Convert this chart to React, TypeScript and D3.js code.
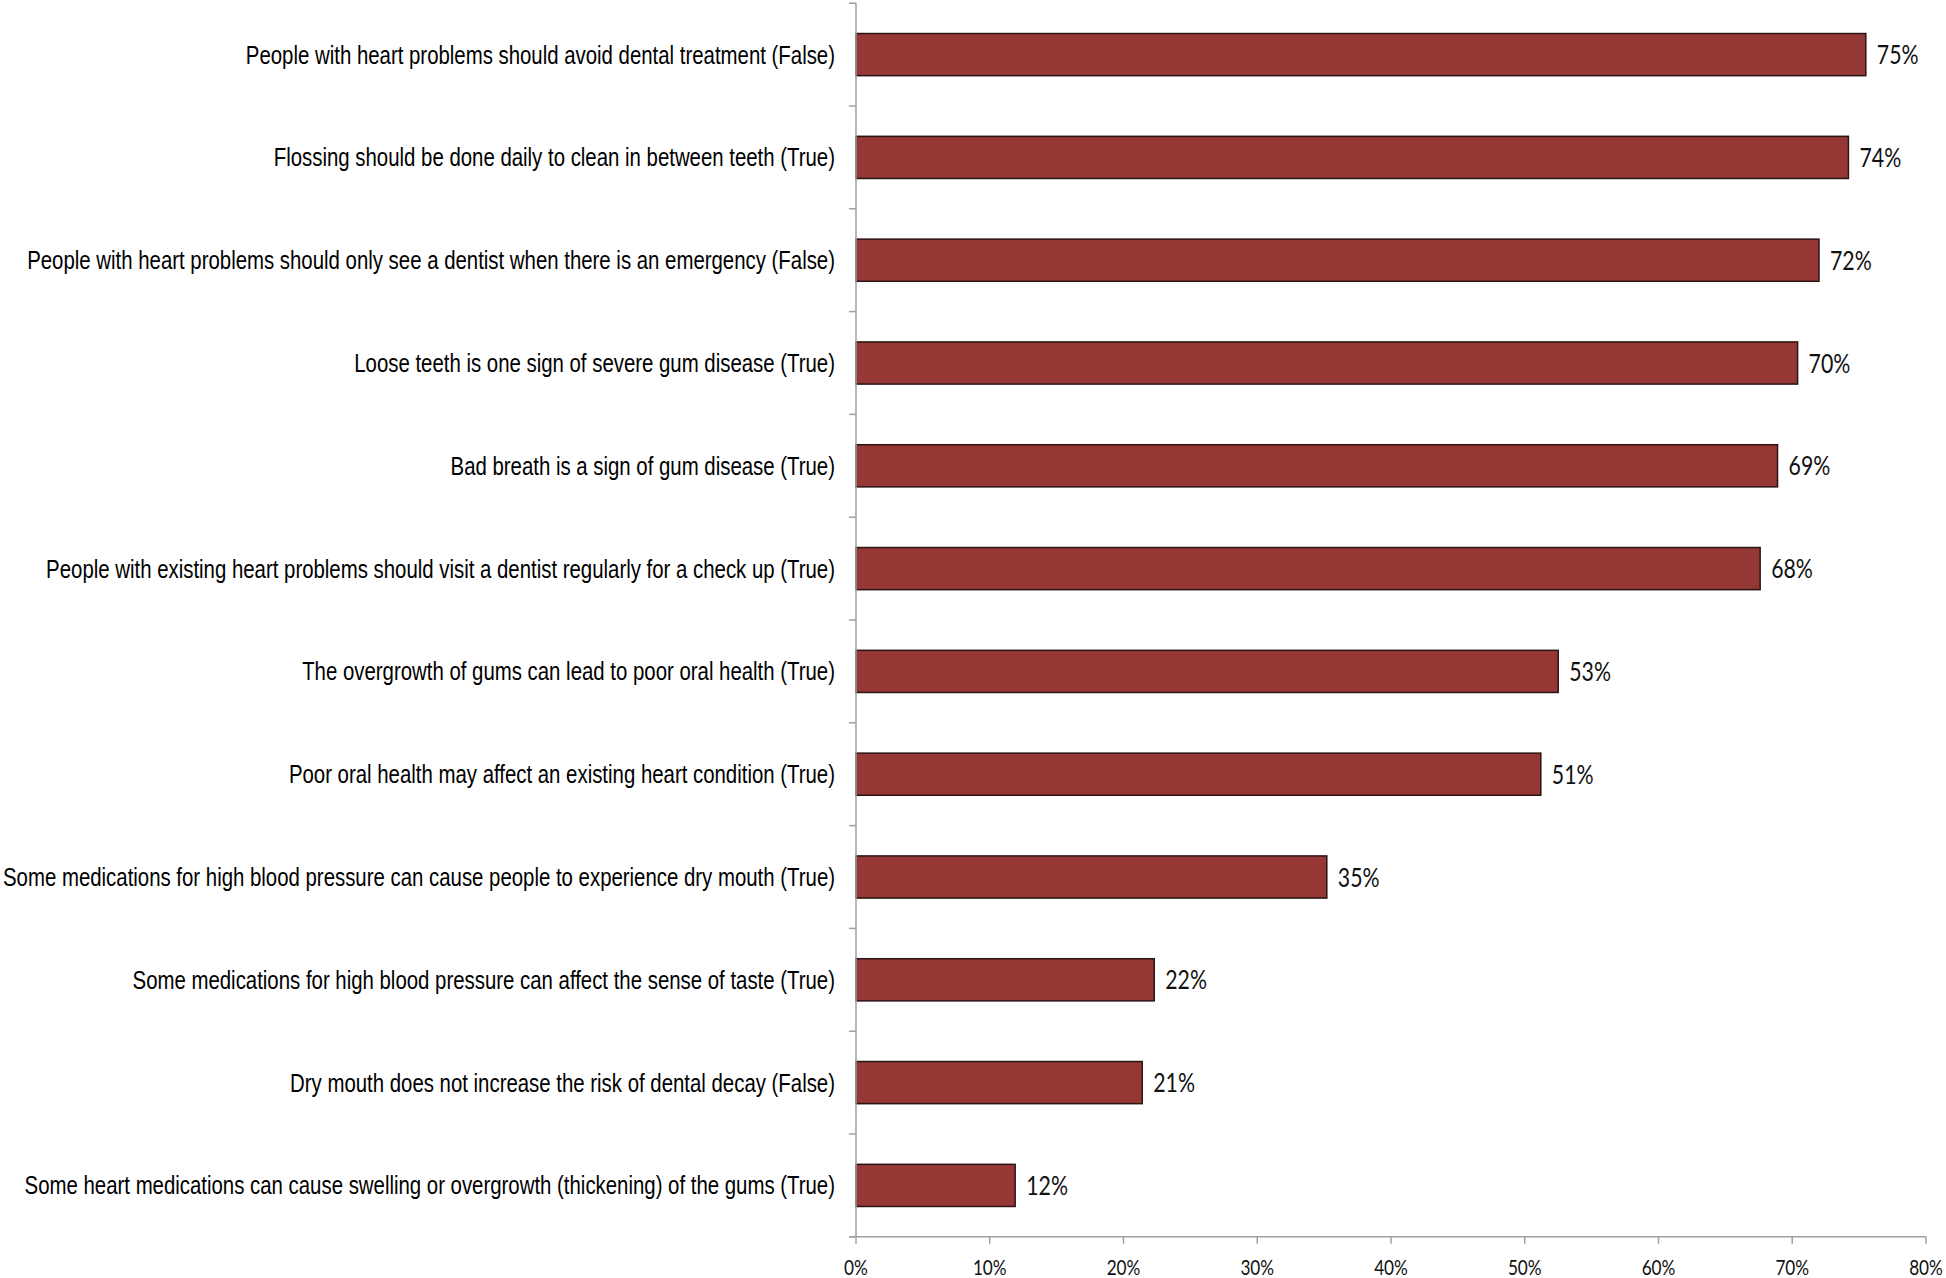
import React from "react";
import * as d3 from "d3";

const categories: string[] = [
  "People with heart problems should avoid dental treatment (False)",
  "Flossing should be done daily to clean in between teeth (True)",
  "People with heart problems should only see a dentist when there is an emergency (False)",
  "Loose teeth is one sign of severe gum disease (True)",
  "Bad breath is a sign of gum disease (True)",
  "People with existing heart problems should visit a dentist regularly for a check up (True)",
  "The overgrowth of gums can lead to poor oral health (True)",
  "Poor oral health may affect an existing heart condition (True)",
  "Some medications for high blood pressure can cause people to experience dry mouth (True)",
  "Some medications for high blood pressure can affect the sense of taste (True)",
  "Dry mouth does not increase the risk of dental decay (False)",
  "Some heart medications can cause swelling or overgrowth (thickening) of the gums (True)",
];

const values: number[] = [75.5, 74.2, 72.0, 70.4, 68.9, 67.6, 52.5, 51.2, 35.2, 22.3, 21.4, 11.9];
const valueLabels: string[] = ["75%", "74%", "72%", "70%", "69%", "68%", "53%", "51%", "35%", "22%", "21%", "12%"];
const xTicks: number[] = [0, 10, 20, 30, 40, 50, 60, 70, 80];

const W = 1946;
const H = 1278;
const X0 = 856;
const X1 = 1926;
const Y0 = 3.2;
const Y1 = 1236.8;
const AXIS = "#a0a0a0";
const BAR = "#953735";
const NARROW_CAT = 0.816;
const NARROW_NUM = 0.82;

export default function App() {
  const x = d3.scaleLinear().domain([0, 80]).range([X0, X1]);
  const y = d3
    .scaleBand<string>()
    .domain(categories)
    .range([Y0, Y1])
    .paddingInner(0.59)
    .paddingOuter(0.295);
  const step = y.step();
  const bw = y.bandwidth();
  const boundaries = categories.map((c) => (y(c) as number) - (step - bw) / 2);
  boundaries.push(Y1);

  return (
    <svg
      width={W}
      height={H}
      style={{ position: "absolute", left: 0, top: 0, background: "#fff" }}
    >
      <rect x={0} y={0} width={W} height={H} fill="#fff" />
      {categories.map((c, i) => (
        <rect
          key={"b" + i}
          x={x(0)}
          y={y(c) as number}
          width={x(values[i]) - x(0)}
          height={bw}
          fill={BAR}
          stroke="#2b1414"
          strokeWidth={1.5}
        />
      ))}
      <line x1={X0} x2={X0} y1={Y0} y2={Y1} stroke={AXIS} strokeWidth={1.5} />
      {boundaries.map((b, i) => (
        <line key={"yt" + i} x1={X0 - 7} x2={X0} y1={b} y2={b} stroke={AXIS} strokeWidth={1.5} />
      ))}
      <line x1={X0 - 7} x2={X1} y1={Y1} y2={Y1} stroke={AXIS} strokeWidth={1.5} />
      {xTicks.map((t) => (
        <line key={"xt" + t} x1={x(t)} x2={x(t)} y1={Y1} y2={Y1 + 7} stroke={AXIS} strokeWidth={1.5} />
      ))}
      {xTicks.map((t) => (
        <g key={"xl" + t} transform={`translate(${x(t)},${Y1 + 38}) scale(${NARROW_NUM},1)`}>
          <text
            x={0}
            y={0}
            textAnchor="middle"
            fontFamily="Lato, 'Open Sans', sans-serif"
            fontSize={21}
            fill="#111"
          >
            {t + "%"}
          </text>
        </g>
      ))}
      {categories.map((c, i) => (
        <g
          key={"cl" + i}
          transform={`translate(${X0 - 21},${(y(c) as number) + bw / 2 + 9}) scale(${NARROW_CAT},1)`}
        >
          <text
            x={0}
            y={0}
            textAnchor="end"
            fontFamily="'Liberation Sans', Arial, sans-serif"
            fontSize={25}
            fill="#000"
          >
            {c}
          </text>
        </g>
      ))}
      {categories.map((c, i) => (
        <g
          key={"vl" + i}
          transform={`translate(${x(values[i]) + 11},${(y(c) as number) + bw / 2 + 9.5}) scale(${NARROW_NUM},1)`}
        >
          <text
            x={0}
            y={0}
            textAnchor="start"
            fontFamily="Lato, 'Open Sans', sans-serif"
            fontSize={26}
            fill="#111"
          >
            {valueLabels[i]}
          </text>
        </g>
      ))}
    </svg>
  );
}
